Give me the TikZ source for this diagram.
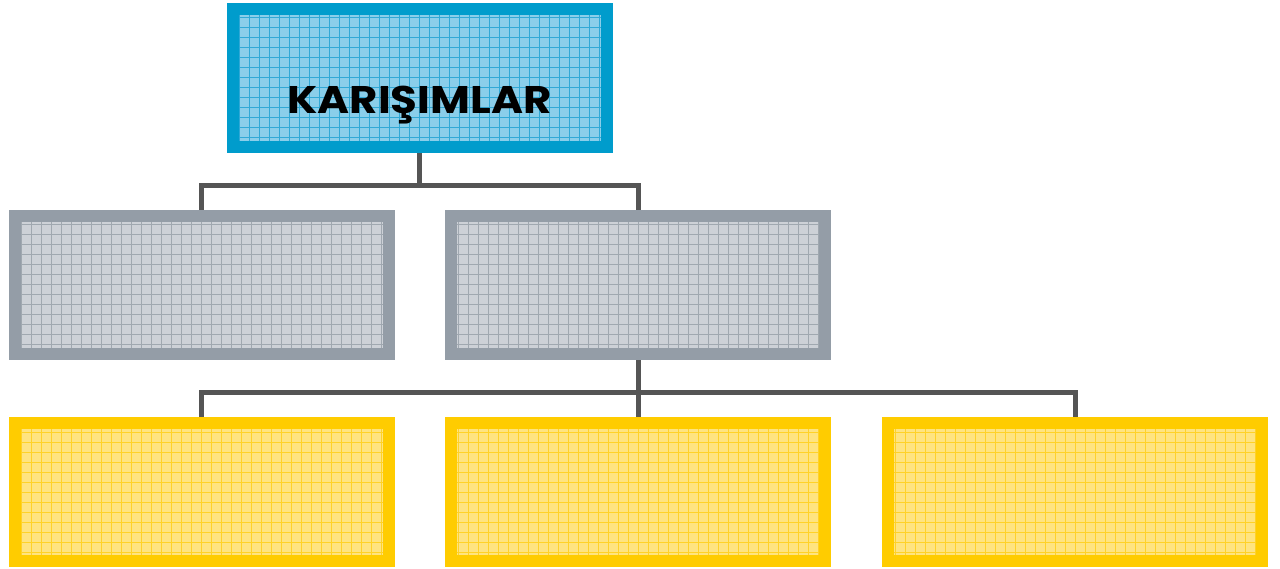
\documentclass[tikz,border=0pt]{standalone}
\usepackage{fontspec}
\setmainfont{Poppins}
\usetikzlibrary{backgrounds}
\definecolor{bluebd}{RGB}{0,156,204}
\definecolor{bluefl}{RGB}{138,206,234}
\definecolor{bluegr}{RGB}{48,168,214}
\definecolor{graybd}{RGB}{148,157,167}
\definecolor{grayfl}{RGB}{205,209,215}
\definecolor{graygr}{RGB}{160,168,176}
\definecolor{yelbd}{RGB}{255,204,0}
\definecolor{yelfl}{RGB}{255,228,128}
\definecolor{yelgr}{RGB}{255,210,40}
\definecolor{conn}{RGB}{85,85,85}
\tikzset{
  box/.style n args={3}{draw=#1, fill=#2, line width=12pt, inner sep=0pt, outer sep=0pt,
    minimum width=374pt, minimum height=138pt,
    path picture={\draw[#3, line width=1pt]
      ([xshift=6pt,yshift=-6pt]path picture bounding box.north west) grid[step=10pt]
      (path picture bounding box.south east);}},
  bluebox/.style={box={bluebd}{bluefl}{bluegr}},
  graybox/.style={box={graybd}{grayfl}{graygr}},
  yelbox/.style={box={yelbd}{yelfl}{yelgr}},
  connector/.style={draw=conn, line width=5pt},
  title/.style={font=\fontsize{38.5}{40}\selectfont\bfseries, inner sep=0pt}
}
\begin{document}
\begin{tikzpicture}[x=1pt,y=-1pt]
\useasboundingbox (0,0) rectangle (1280,569);
\node[bluebox] (top) at (419.5,78) {};
\node[title, anchor=base] (toptext) at (419.5,113.5) {\scalebox{1.13}[1]{KARIŞIMLAR}};
\node[graybox] (g1) at (201.5,285) {};
\node[graybox] (g2) at (638,285) {};
\node[yelbox] (y1) at (201.5,492) {};
\node[yelbox] (y2) at (638,492) {};
\node[yelbox] (y3) at (1075,492) {};
\begin{scope}[on background layer]
\draw[connector] (top.south) -- ++(0,39) coordinate (h1) -| (g1.north);
\draw[connector] (h1) -| (g2.north);
\draw[connector] (g2.south) -- ++(0,38) coordinate (h2) -| (y1.north);
\draw[connector] (h2) -| (y3.north);
\draw[connector] (h2) -- (y2.north);
\end{scope}
\end{tikzpicture}
\end{document}
